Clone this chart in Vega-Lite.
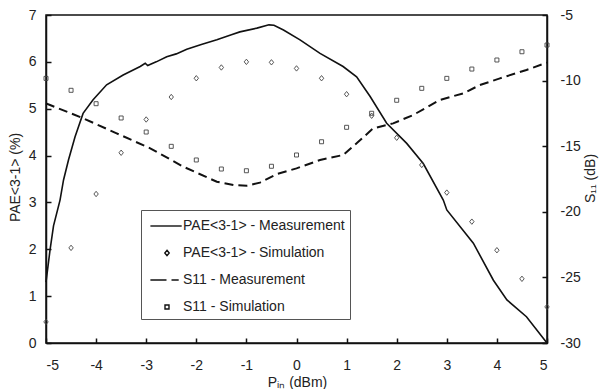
{
  "$schema": "https://vega.github.io/schema/vega-lite/v6.json",
  "width": 501,
  "height": 328,
  "autosize": {"type": "none"},
  "padding": {"left": 46, "top": 15, "right": 52, "bottom": 46},
  "background": "white",
  "config": {
    "font": "Liberation Sans",
    "view": {"stroke": "#111", "strokeWidth": 1.5},
    "axis": {
      "grid": false,
      "domainColor": "#111",
      "domainWidth": 1.5,
      "tickColor": "#111",
      "tickWidth": 1.5,
      "tickSize": -5,
      "labelColor": "#222",
      "titleColor": "#222",
      "labelFontSize": 14,
      "titleFontSize": 14,
      "titleFontWeight": "normal",
      "labelFont": "Liberation Sans",
      "titleFont": "Liberation Sans",
      "titleAlign": "center",
      "titleBaseline": "middle",
      "labelExpr": "datum.value < 0 ? '-' + abs(datum.value) : '' + datum.value"
    }
  },
  "datasets": {
    "main": [
      {"series": "PAE<3-1> - Measurement", "x": -5.0, "v": 1.30},
      {"series": "PAE<3-1> - Measurement", "x": -4.92, "v": 1.98},
      {"series": "PAE<3-1> - Measurement", "x": -4.85, "v": 2.5},
      {"series": "PAE<3-1> - Measurement", "x": -4.72, "v": 3.05},
      {"series": "PAE<3-1> - Measurement", "x": -4.65, "v": 3.48},
      {"series": "PAE<3-1> - Measurement", "x": -4.55, "v": 3.91},
      {"series": "PAE<3-1> - Measurement", "x": -4.42, "v": 4.40},
      {"series": "PAE<3-1> - Measurement", "x": -4.26, "v": 4.90},
      {"series": "PAE<3-1> - Measurement", "x": -4.06, "v": 5.19},
      {"series": "PAE<3-1> - Measurement", "x": -3.79, "v": 5.51},
      {"series": "PAE<3-1> - Measurement", "x": -3.46, "v": 5.72},
      {"series": "PAE<3-1> - Measurement", "x": -3.12, "v": 5.90},
      {"series": "PAE<3-1> - Measurement", "x": -3.02, "v": 5.97},
      {"series": "PAE<3-1> - Measurement", "x": -2.97, "v": 5.92},
      {"series": "PAE<3-1> - Measurement", "x": -2.8, "v": 6.00},
      {"series": "PAE<3-1> - Measurement", "x": -2.59, "v": 6.11},
      {"series": "PAE<3-1> - Measurement", "x": -2.4, "v": 6.17},
      {"series": "PAE<3-1> - Measurement", "x": -2.19, "v": 6.27},
      {"series": "PAE<3-1> - Measurement", "x": -1.9, "v": 6.37},
      {"series": "PAE<3-1> - Measurement", "x": -1.59, "v": 6.47},
      {"series": "PAE<3-1> - Measurement", "x": -1.3, "v": 6.58},
      {"series": "PAE<3-1> - Measurement", "x": -1.13, "v": 6.64},
      {"series": "PAE<3-1> - Measurement", "x": -0.79, "v": 6.72},
      {"series": "PAE<3-1> - Measurement", "x": -0.55, "v": 6.79},
      {"series": "PAE<3-1> - Measurement", "x": -0.45, "v": 6.78},
      {"series": "PAE<3-1> - Measurement", "x": -0.26, "v": 6.68},
      {"series": "PAE<3-1> - Measurement", "x": 0.07, "v": 6.47},
      {"series": "PAE<3-1> - Measurement", "x": 0.47, "v": 6.18},
      {"series": "PAE<3-1> - Measurement", "x": 0.93, "v": 5.90},
      {"series": "PAE<3-1> - Measurement", "x": 1.2, "v": 5.68},
      {"series": "PAE<3-1> - Measurement", "x": 1.47, "v": 5.26},
      {"series": "PAE<3-1> - Measurement", "x": 1.8, "v": 4.69},
      {"series": "PAE<3-1> - Measurement", "x": 2.2, "v": 4.26},
      {"series": "PAE<3-1> - Measurement", "x": 2.53, "v": 3.83},
      {"series": "PAE<3-1> - Measurement", "x": 2.93, "v": 3.05},
      {"series": "PAE<3-1> - Measurement", "x": 3.0, "v": 2.84},
      {"series": "PAE<3-1> - Measurement", "x": 3.53, "v": 2.13},
      {"series": "PAE<3-1> - Measurement", "x": 3.93, "v": 1.34},
      {"series": "PAE<3-1> - Measurement", "x": 4.2, "v": 0.92},
      {"series": "PAE<3-1> - Measurement", "x": 4.59, "v": 0.56},
      {"series": "PAE<3-1> - Measurement", "x": 5.0, "v": 0.0},

      {"series": "PAE<3-1> - Simulation", "x": -5.0, "v": 0.45},
      {"series": "PAE<3-1> - Simulation", "x": -4.5, "v": 2.03},
      {"series": "PAE<3-1> - Simulation", "x": -4.0, "v": 3.18},
      {"series": "PAE<3-1> - Simulation", "x": -3.5, "v": 4.06},
      {"series": "PAE<3-1> - Simulation", "x": -3.0, "v": 4.77},
      {"series": "PAE<3-1> - Simulation", "x": -2.5, "v": 5.25},
      {"series": "PAE<3-1> - Simulation", "x": -2.0, "v": 5.65},
      {"series": "PAE<3-1> - Simulation", "x": -1.5, "v": 5.88},
      {"series": "PAE<3-1> - Simulation", "x": -1.0, "v": 6.00},
      {"series": "PAE<3-1> - Simulation", "x": -0.5, "v": 5.99},
      {"series": "PAE<3-1> - Simulation", "x": 0.0, "v": 5.86},
      {"series": "PAE<3-1> - Simulation", "x": 0.5, "v": 5.65},
      {"series": "PAE<3-1> - Simulation", "x": 1.0, "v": 5.31},
      {"series": "PAE<3-1> - Simulation", "x": 1.5, "v": 4.85},
      {"series": "PAE<3-1> - Simulation", "x": 2.0, "v": 4.38},
      {"series": "PAE<3-1> - Simulation", "x": 2.5, "v": 3.80},
      {"series": "PAE<3-1> - Simulation", "x": 3.0, "v": 3.21},
      {"series": "PAE<3-1> - Simulation", "x": 3.5, "v": 2.59},
      {"series": "PAE<3-1> - Simulation", "x": 4.0, "v": 1.98},
      {"series": "PAE<3-1> - Simulation", "x": 4.5, "v": 1.37},
      {"series": "PAE<3-1> - Simulation", "x": 5.0, "v": 0.77},

      {"series": "S11 - Measurement", "x": -5.0, "v": -11.73},
      {"series": "S11 - Measurement", "x": -4.92, "v": -11.86},
      {"series": "S11 - Measurement", "x": -4.26, "v": -12.87},
      {"series": "S11 - Measurement", "x": -3.59, "v": -14.02},
      {"series": "S11 - Measurement", "x": -2.92, "v": -15.16},
      {"series": "S11 - Measurement", "x": -2.26, "v": -16.56},
      {"series": "S11 - Measurement", "x": -1.59, "v": -17.71},
      {"series": "S11 - Measurement", "x": -1.26, "v": -17.96},
      {"series": "S11 - Measurement", "x": -0.99, "v": -18.01},
      {"series": "S11 - Measurement", "x": -0.73, "v": -17.78},
      {"series": "S11 - Measurement", "x": -0.39, "v": -17.12},
      {"series": "S11 - Measurement", "x": 0.0, "v": -16.69},
      {"series": "S11 - Measurement", "x": 0.47, "v": -16.05},
      {"series": "S11 - Measurement", "x": 0.93, "v": -15.67},
      {"series": "S11 - Measurement", "x": 1.2, "v": -14.78},
      {"series": "S11 - Measurement", "x": 1.53, "v": -13.64},
      {"series": "S11 - Measurement", "x": 1.93, "v": -13.26},
      {"series": "S11 - Measurement", "x": 2.33, "v": -12.62},
      {"series": "S11 - Measurement", "x": 2.86, "v": -11.48},
      {"series": "S11 - Measurement", "x": 3.33, "v": -10.97},
      {"series": "S11 - Measurement", "x": 3.66, "v": -10.34},
      {"series": "S11 - Measurement", "x": 4.06, "v": -9.83},
      {"series": "S11 - Measurement", "x": 4.59, "v": -9.19},
      {"series": "S11 - Measurement", "x": 5.0, "v": -8.63},

      {"series": "S11 - Simulation", "x": -5.0, "v": -9.83},
      {"series": "S11 - Simulation", "x": -4.5, "v": -10.74},
      {"series": "S11 - Simulation", "x": -4.0, "v": -11.76},
      {"series": "S11 - Simulation", "x": -3.5, "v": -12.85},
      {"series": "S11 - Simulation", "x": -3.0, "v": -13.92},
      {"series": "S11 - Simulation", "x": -2.5, "v": -15.01},
      {"series": "S11 - Simulation", "x": -2.0, "v": -16.05},
      {"series": "S11 - Simulation", "x": -1.5, "v": -16.74},
      {"series": "S11 - Simulation", "x": -1.0, "v": -16.87},
      {"series": "S11 - Simulation", "x": -0.5, "v": -16.53},
      {"series": "S11 - Simulation", "x": 0.0, "v": -15.67},
      {"series": "S11 - Simulation", "x": 0.5, "v": -14.66},
      {"series": "S11 - Simulation", "x": 1.0, "v": -13.56},
      {"series": "S11 - Simulation", "x": 1.5, "v": -12.49},
      {"series": "S11 - Simulation", "x": 2.0, "v": -11.50},
      {"series": "S11 - Simulation", "x": 2.5, "v": -10.59},
      {"series": "S11 - Simulation", "x": 3.0, "v": -9.83},
      {"series": "S11 - Simulation", "x": 3.5, "v": -9.12},
      {"series": "S11 - Simulation", "x": 4.0, "v": -8.43},
      {"series": "S11 - Simulation", "x": 4.5, "v": -7.80},
      {"series": "S11 - Simulation", "x": 5.0, "v": -7.29}
    ]
  },
  "data": {"name": "main"},
  "encoding": {
    "x": {
      "field": "x",
      "type": "quantitative",
      "scale": {"domain": [-5, 5], "nice": false, "zero": false},
      "axis": {
        "title": "Pᵢₙ (dBm)",
        "values": [-5, -4, -3, -2, -1, 0, 1, 2, 3, 4, 5],
        "labelPadding": 20,
        "titleX": 251,
        "titleY": 39
      }
    }
  },
  "layer": [
    {
      "encoding": {
        "y": {
          "field": "v",
          "type": "quantitative",
          "scale": {"domain": [0, 7], "nice": false},
          "axis": {
            "orient": "left",
            "title": "PAE<3-1> (%)",
            "values": [0, 1, 2, 3, 4, 5, 6, 7],
            "labelPadding": 15,
            "titleAngle": 270,
            "titleX": -31,
            "titleY": 162
          }
        }
      },
      "layer": [
        {
          "transform": [{"filter": "datum.series === 'PAE<3-1> - Measurement'"}],
          "mark": {"type": "line", "stroke": "#111", "strokeWidth": 1.6},
          "encoding": {}
        },
        {
          "transform": [{"filter": "datum.series === 'PAE<3-1> - Simulation'"}],
          "mark": {"type": "point", "filled": false, "size": 400, "stroke": "#444", "strokeWidth": 0.9, "opacity": 1},
          "encoding": {
            "shape": {
              "field": "series",
              "type": "nominal",
              "scale": {
                "domain": ["PAE<3-1> - Measurement", "PAE<3-1> - Simulation", "S11 - Measurement", "S11 - Simulation"],
                "range": [
                  "M-1.66,0H1.47",
                  "M0,-0.27L0.22,0L0,0.27L-0.22,0Z",
                  "M-1.66,0H-0.05M0.45,0H1.17",
                  "M-0.2,-0.2H0.2V0.2H-0.2Z"
                ]
              },
              "legend": {
                "orient": "none",
                "legendX": 95,
                "legendY": 195,
                "title": null,
                "padding": 5,
                "strokeColor": "#555",
                "fillColor": "white",
                "symbolSize": 400,
                "symbolStrokeWidth": 1.4,
                "symbolStrokeColor": "#111",
                "symbolOffset": 10,
                "labelOffset": 5,
                "labelLimit": 400,
                "labelExpr": "datum.label + '\u00a0\u00a0'",
                "labelFontSize": 14,
                "labelColor": "#222",
                "labelFont": "Liberation Sans",
                "rowPadding": 9
              }
            }
          }
        }
      ]
    },
    {
      "encoding": {
        "y": {
          "field": "v",
          "type": "quantitative",
          "scale": {"domain": [-30, -5], "nice": false, "zero": false},
          "axis": {
            "orient": "right",
            "title": "S₁₁ (dB)",
            "titleAngle": 270,
            "values": [-30, -25, -20, -15, -10, -5],
            "labelPadding": 18,
            "titleX": 43,
            "titleY": 163
          }
        }
      },
      "layer": [
        {
          "transform": [{"filter": "datum.series === 'S11 - Measurement'"}],
          "mark": {"type": "line", "stroke": "#111", "strokeWidth": 2, "strokeDash": [9, 5]},
          "encoding": {}
        },
        {
          "transform": [{"filter": "datum.series === 'S11 - Simulation'"}],
          "mark": {"type": "point", "filled": false, "size": 400, "stroke": "#444", "strokeWidth": 0.9, "opacity": 1},
          "encoding": {
            "shape": {"field": "series", "type": "nominal"}
          }
        }
      ]
    }
  ],
  "resolve": {"scale": {"y": "independent"}}
}
